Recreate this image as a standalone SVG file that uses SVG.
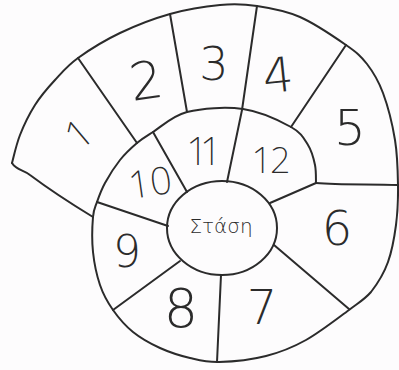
<svg xmlns="http://www.w3.org/2000/svg" width="399" height="370" viewBox="0 0 399 370">
<style>
.ln{fill:none;stroke:#2b2b2b;stroke-width:2;stroke-linecap:round;stroke-linejoin:round}
.t{font-family:"DejaVu Sans ExtraLight","DejaVu Sans","Liberation Sans",sans-serif;font-weight:200;fill:#2b2b2b;text-anchor:middle}
.n{font-family:"Noto Sans","Open Sans","Liberation Sans",sans-serif;font-weight:200;fill:#2b2b2b;text-anchor:middle}
</style>
<rect width="399" height="370" fill="#fdfcfd"/>
<g id="lines">
<path class="ln" d="M12,163 C13.3,158.3 16.2,144.7 20,135 C23.8,125.3 29.2,114.2 35,105 C40.8,95.8 47.8,87.8 55,80 C62.2,72.2 67.2,65.8 78,58 C88.8,50.2 104.7,40.3 120,33 C135.3,25.7 153.3,18.7 170,14 C186.7,9.3 205.5,6.3 220,5 C234.5,3.7 243.7,4 257,6 C270.3,8 285.2,10.5 300,17 C314.8,23.5 334.8,37.2 346,45 C357.2,52.8 360.8,56 367,64 C373.2,72 378.3,80.3 383,93 C387.7,105.7 392.5,124.7 395,140 C397.5,155.3 397.8,170.8 398,185 C398.2,199.2 397.7,212.2 396,225 C394.3,237.8 392,250.8 388,262 C384,273.2 378,283 371,292 C364,300 358,303 349,310 C338,318 319.8,332.3 306,340 C292.2,347.7 280.5,352.3 266,356 C251.5,359.7 231.7,361.7 219,362 C206.3,362.3 199.8,360.3 190,358 C180.2,355.7 169.5,352.3 160,348 C150.5,343.7 140.8,338.3 133,332 C125.2,325.7 118.5,317.8 113,310 C107.5,302.2 103.3,294.7 100,285 C96.7,275.3 94.2,263.3 93,252 C91.8,240.7 92.3,225.3 93,217 C93.7,208.7 95,207.7 97,202 C99,196.3 101.2,190 105,183 C108.8,176 114.7,166.7 120,160 C125.3,153.3 131.5,147.7 137,143 C142.5,138.3 144.7,137.2 153,132 C161.3,126.8 172,115.8 187,112 C202,108.2 225.7,106.5 243,109 C260.3,111.5 280.2,121 291,127 C301.8,133 304,138.7 308,145 C312,151.3 313.7,158.7 315,165 C316.3,171.3 315.8,180 316,183"/>
<path class="ln" d="M12,163 C16,170 24,170 30,175 C50,190 70,203 93,217"/>
<path class="ln" d="M316,183 C340,185 370,184 398,185"/>
<ellipse class="ln" cx="222" cy="228" rx="55" ry="47"/>
<path class="ln" d="M78,58 L137,143"/>
<path class="ln" d="M170,14 L187,112"/>
<path class="ln" d="M257,6 L242,110 L227,182"/>
<path class="ln" d="M346,45 L291,127"/>
<path class="ln" d="M153,132 L187,192"/>
<path class="ln" d="M97,202 L168,226"/>
<path class="ln" d="M113,310 L180,261"/>
<path class="ln" d="M221,275 L217,362"/>
<path class="ln" d="M274,245 L349,309"/>
<path class="ln" d="M270,203 L316,183"/>
</g>
<g id="cell1"><text class="n" font-size="40" transform="translate(79,134) rotate(-40)" y="14">1</text></g>
<g id="cell2"><text class="t" font-size="52" transform="translate(146,80) rotate(-8)" y="19">2</text></g>
<g id="cell3"><text class="t" font-size="46" x="214" y="80">3</text></g>
<g id="cell4"><text class="t" font-size="48" transform="translate(278,75) rotate(-6)" y="17">4</text></g>
<g id="cell5"><text class="t" font-size="50" x="350" y="145">5</text></g>
<g id="cell6"><text class="t" font-size="48" x="337" y="245">6</text></g>
<g id="cell7"><text class="t" font-size="48" x="262" y="324">7</text></g>
<g id="cell8"><text class="t" font-size="54" x="181" y="327">8</text></g>
<g id="cell9"><text class="t" font-size="44" x="127" y="267">9</text></g>
<g id="cell10"><text class="n" font-size="38" transform="translate(150,182) rotate(-8)" y="14">10</text></g>
<g id="cell11"><text class="n" font-size="38" x="200" y="165" letter-spacing="-8">11</text></g>
<g id="cell12"><text class="n" font-size="36" x="270" y="173" letter-spacing="-2">12</text></g>
<g id="stasi"><text class="t" font-size="20" x="221" y="233">Στάση</text></g>
</svg>
